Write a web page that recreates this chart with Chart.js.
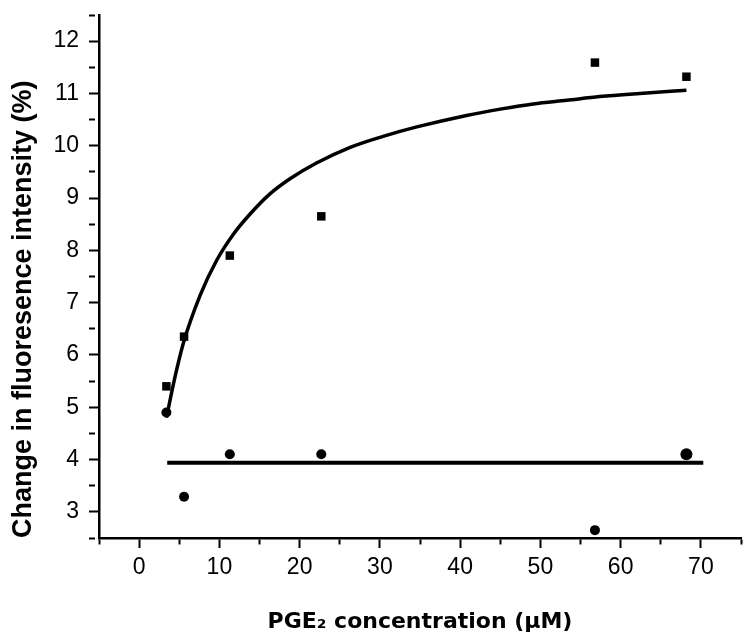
<!DOCTYPE html>
<html>
<head>
<meta charset="utf-8">
<script src="https://cdn.jsdelivr.net/npm/chart.js@4/dist/chart.umd.min.js"></script>
<style>
  html, body { margin: 0; padding: 0; background: #fff; }
  #wrap { width: 750px; height: 644px; }
</style>
</head>
<body>
<div id="wrap"><canvas id="pgeChart" width="750" height="644"></canvas></div>
<script>
// PGE2 concentration (uM) for both series
const concentrations = [3.4, 5.6, 11.3, 22.7, 56.8, 68.2];
// square markers
const squareValues = [5.4, 6.35, 7.9, 8.65, 11.59, 11.32];
// round markers
const circleValues = [4.9, 3.29, 4.1, 4.1, 2.65, 4.1];

// fitted curve
const curveX = [3.4, 4.5, 5.5, 7.6, 9.7, 11.7, 13.8, 16.3, 18.8, 22.1, 26.3, 30.4, 34.6, 40.8, 45.0, 49.1, 53.3, 57.4, 62.4, 68.2];
const curveY = [4.8, 5.6, 6.22, 7.14, 7.82, 8.3, 8.69, 9.08, 9.37, 9.67, 9.97, 10.18, 10.36, 10.58, 10.7, 10.8, 10.87, 10.94, 11.0, 11.06];

// flat fit line
const flatX = [3.5, 70.3];
const flatY = [3.94, 3.94];

const xTickLabels = [0, 10, 20, 30, 40, 50, 60, 70];
const yTickLabels = [3, 4, 5, 6, 7, 8, 9, 10, 11, 12];

function toPoints(xs, ys) {
    return xs.map((x, i) => ({ x: x, y: ys[i] }));
}

document.addEventListener("DOMContentLoaded", function () {
    const ctx = document.getElementById("pgeChart").getContext("2d");
    new Chart(ctx, {
        type: "scatter",
        data: {
            datasets: [
                {
                    data: toPoints(curveX, curveY),
                    showLine: true,
                    borderColor: "#000",
                    borderWidth: 3.5,
                    pointRadius: 0,
                    cubicInterpolationMode: "monotone"
                },
                {
                    data: toPoints(flatX, flatY),
                    showLine: true,
                    borderColor: "#000",
                    borderWidth: 4,
                    pointRadius: 0
                },
                {
                    data: toPoints(concentrations, squareValues),
                    pointStyle: "rect",
                    pointRadius: 6,
                    backgroundColor: "#000",
                    borderColor: "#000",
                    borderWidth: 0
                },
                {
                    data: toPoints(concentrations, circleValues),
                    pointStyle: "circle",
                    pointRadius: [5, 5, 5, 5, 5, 6],
                    backgroundColor: "#000",
                    borderColor: "#000",
                    borderWidth: 0
                }
            ]
        },
        options: {
            responsive: false,
            animation: false,
            layout: { padding: { top: 15, right: 9, left: 0, bottom: 0 } },
            plugins: {
                legend: { display: false },
                tooltip: { enabled: false }
            },
            scales: {
                x: {
                    type: "linear",
                    min: -5,
                    max: 75,
                    afterFit: function (scale) {
                        scale.height = 106;
                        scale.paddingLeft = 0;
                        scale.paddingRight = 0;
                    },
                    border: { color: "#000", width: 2.5 },
                    grid: {
                        drawOnChartArea: false,
                        tickLength: 10,
                        tickColor: "#000",
                        tickWidth: 2,
                        tickBorderDash: function (c) {
                            return c.tick && xTickLabels.includes(c.tick.value) ? [] : [5, 100];
                        }
                    },
                    ticks: {
                        stepSize: 5,
                        autoSkip: false,
                        maxRotation: 0,
                        padding: 6,
                        color: "#000",
                        font: { family: "Liberation Sans", size: 23 },
                        callback: function (v) { return xTickLabels.includes(v) ? String(v) : ""; }
                    },
                    title: {
                        display: true,
                        text: "PGE\u2082 concentration (\u00B5M)",
                        color: "#000",
                        font: { family: "DejaVu Sans", size: 22, weight: "bold" },
                        padding: { top: 0, bottom: 9 }
                    }
                },
                y: {
                    type: "linear",
                    min: 2.5,
                    max: 12.5,
                    afterFit: function (scale) {
                        scale.width = 99;
                        scale.paddingTop = 0;
                        scale.paddingBottom = 0;
                    },
                    border: { color: "#000", width: 2.5 },
                    grid: {
                        drawOnChartArea: false,
                        tickLength: 10,
                        tickColor: "#000",
                        tickWidth: 2,
                        tickBorderDash: function (c) {
                            return c.tick && yTickLabels.includes(c.tick.value) ? [] : [6, 100];
                        }
                    },
                    ticks: {
                        stepSize: 0.5,
                        autoSkip: false,
                        padding: 10,
                        color: "#000",
                        font: { family: "Liberation Sans", size: 23 },
                        callback: function (v) { return yTickLabels.includes(v) ? String(v) : ""; }
                    },
                    title: {
                        display: true,
                        align: "start",
                        text: "Change in fluoresence intensity (%)",
                        color: "#000",
                        font: { family: "Liberation Sans", size: 27, weight: "bold" },
                        padding: { top: 7, bottom: 0 }
                    }
                }
            }
        }
    });
});
</script>
</body>
</html>
